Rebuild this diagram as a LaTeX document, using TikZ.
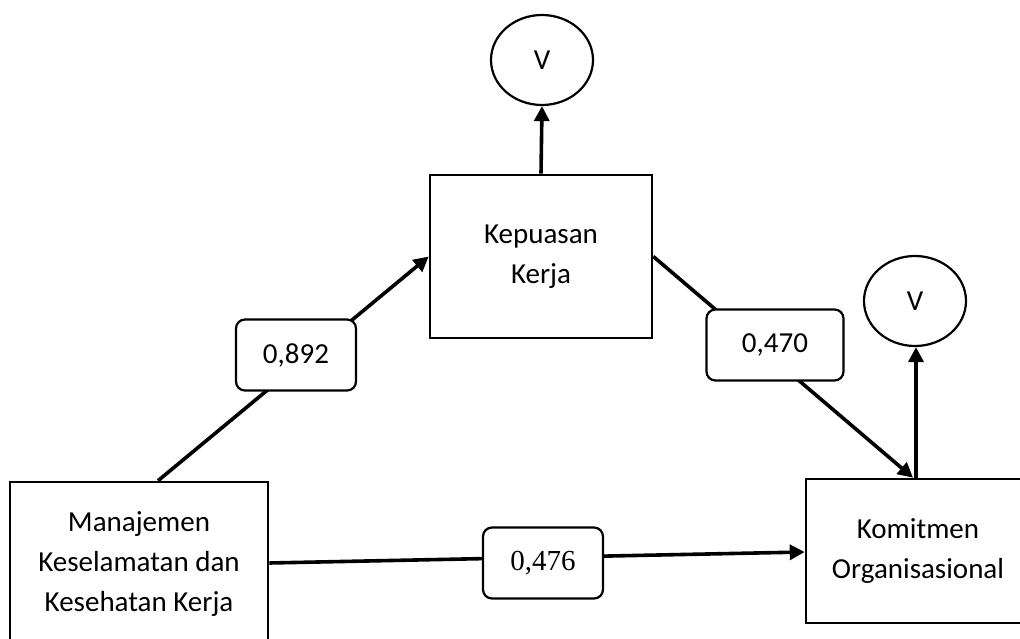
\documentclass[tikz,border=0pt]{standalone}
\usepackage{fontspec}
\setmainfont{Carlito}
\newfontfamily\numserif{Liberation Serif}
\usetikzlibrary{arrows.meta,shapes.geometric}

\tikzset{
  varbox/.style={draw, line width=2.6pt, align=center, inner sep=0pt},
  errcircle/.style={draw, ellipse, line width=2.2pt, inner sep=0pt,
                    minimum width=102pt, minimum height=90pt},
  coef/.style={draw, fill=white, rounded corners=9pt, line width=2.2pt,
               minimum height=71pt, inner sep=0pt},
  path/.style={line width=3.6pt, -{Triangle[length=15pt,width=15pt]}}
}

\begin{document}
\begin{tikzpicture}[x=1pt, y=-1pt, font=\fontsize{29}{40}\selectfont]
  \useasboundingbox (0,0) rectangle (1020,639);

  % latent variables (the outer boxes run past the page edge)
  \node[varbox, minimum width=222pt, minimum height=163pt] (kep) at (541,256.5)
       {Kepuasan\\Kerja};
  \node[varbox, minimum width=258pt, minimum height=164pt] (mkk) at (139,564)
       {\fontsize{29}{37}\selectfont Manajemen\\Keselamatan dan\\Kesehatan Kerja};
  \node[varbox, minimum width=224pt, minimum height=144pt] (kom) at (918,551)
       {Komitmen\\Organisasional};

  % residual circles
  \node[errcircle] (v1) at (542,60) {V};
  \node[errcircle] (v2) at (915,301) {V};

  % structural paths
  \draw[path] ([xshift=19pt]mkk.north) -- (kep.west);
  \draw[path] (kep.east) -- ([xshift=-5pt]kom.north);
  \draw[path] ([yshift=1pt]mkk.east) -- ([yshift=-1pt]kom.west);
  \draw[path] (kep.north) -- (v1.south);
  \draw[path] ([xshift=-2pt]kom.north) -- ([xshift=1pt]v2.south);

  % path coefficients
  \node[coef, minimum width=120pt] (c1) at (296,355) {0,892};
  \node[coef, minimum width=137pt] (c2) at (775,345) {0,470};
  \node[coef, minimum width=120pt] (c3) at (543,563) {\numserif 0,476};
\end{tikzpicture}
\end{document}
